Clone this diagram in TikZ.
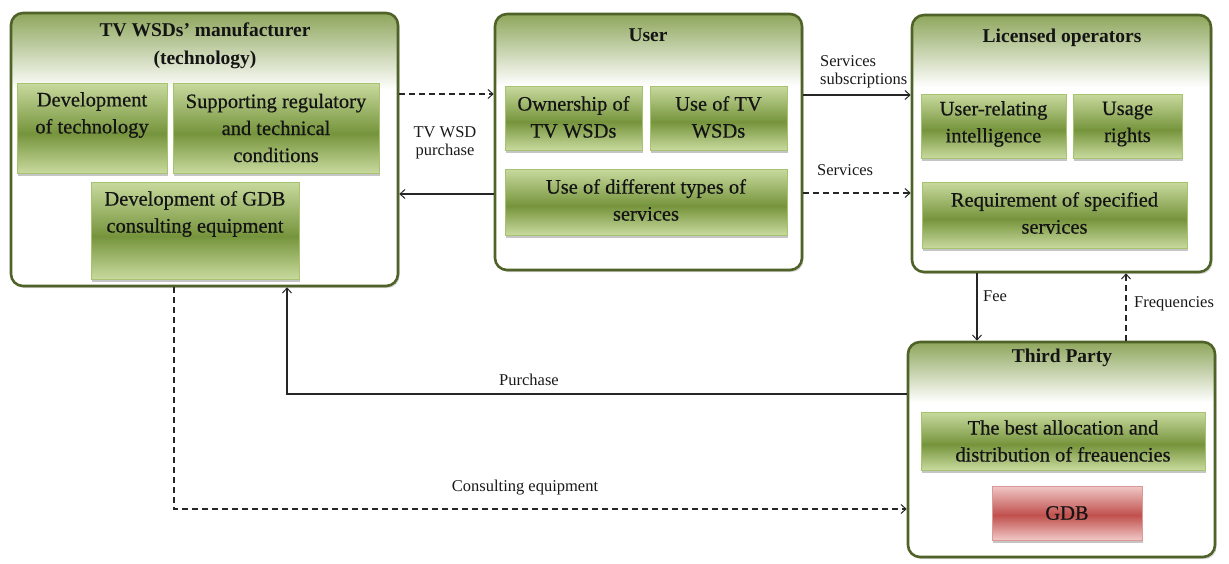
\documentclass[tikz,border=0pt]{standalone}
\usepackage{fontspec}
\setmainfont{Liberation Serif}
\newfontfamily\taskfont{Liberation Serif}
\newfontfamily\heavyfont[FakeBold=0.5]{Liberation Serif}
\usetikzlibrary{arrows.meta,shadows}

% palette
\definecolor{outline}{RGB}{79,98,40}
\definecolor{outtop}{RGB}{142,166,92}
\definecolor{inlight}{RGB}{200,218,158}
\definecolor{indark}{RGB}{118,148,60}
\definecolor{inedge}{RGB}{168,195,112}
\definecolor{gdblight}{RGB}{240,200,199}
\definecolor{gdbdark}{RGB}{192,80,77}
\definecolor{gdbedge}{RGB}{218,152,150}

% shadings: pale band at the top of a party box, glossy bars for the tasks
\pgfdeclareverticalshading{outerfade}{100bp}{color(0bp)=(white); color(61bp)=(white); color(75bp)=(outtop); color(100bp)=(outtop)}
\pgfdeclareverticalshading{greenbar}{100bp}{color(0bp)=(inlight); color(25bp)=(inlight); color(47bp)=(indark); color(75bp)=(inlight); color(100bp)=(inlight)}
\pgfdeclareverticalshading{redbar}{100bp}{color(0bp)=(gdblight); color(25bp)=(gdblight); color(48bp)=(gdbdark); color(75bp)=(gdblight); color(100bp)=(gdblight)}

\tikzset{
  party/.style={draw=outline, line width=2.6pt, rounded corners=12pt, shading=outerfade,
    drop shadow={shadow xshift=1.5pt, shadow yshift=-2pt, opacity=0.35}, inner sep=0pt},
  task/.style={draw=inedge, line width=0.8pt, shading=greenbar,
    drop shadow={shadow xshift=1pt, shadow yshift=-2.5pt, opacity=0.45}, inner sep=0pt},
  dbtask/.style={task, draw=gdbedge, shading=redbar},
  ptitle/.style={font=\taskfont\fontsize{19.5}{28}\selectfont\bfseries, align=center, text=black!92, inner sep=0pt},
  ttext/.style={font=\heavyfont\fontsize{20.5}{27}\selectfont, align=center, text=black!92, inner sep=0pt},
  flowlabel/.style={font=\taskfont\fontsize{16.5}{18.5}\selectfont, text=black!90, inner sep=0pt},
  flow/.style={line width=1.2pt, draw=black!85, -{Straight Barb[length=5pt,width=9pt,line width=1pt]}},
  dflow/.style={flow, dash pattern=on 6pt off 4pt}
}

\begin{document}
\begin{tikzpicture}[x=1pt, y=-1pt]
\useasboundingbox (0,0) rectangle (1229,563);

% ---- TV WSDs' manufacturer
\node[party, minimum width=387pt, minimum height=273pt] (man) at (204.5,149.5) {};
\node[ptitle] (man-t) at (205,46) {TV WSDs’ manufacturer\\(technology)};
\node[task, minimum width=150pt, minimum height=90pt] (devtech) at (92,128) {};
\node[ttext] (devtech-t) at (92,115) {Development\\of technology};
\node[task, minimum width=206pt, minimum height=90pt] (support) at (276,128) {};
\node[ttext] (support-t) at (276,128) {Supporting regulatory\\and technical\\conditions};
\node[task, minimum width=208pt, minimum height=97pt] (devgdb) at (195,230.5) {};
\node[ttext] (devgdb-t) at (195,214) {Development of GDB\\consulting equipment};

% ---- User
\node[party, minimum width=307pt, minimum height=256pt] (user) at (648.5,142) {};
\node[ptitle] (user-t) at (648,35) {User};
\node[task, minimum width=137pt, minimum height=64pt] (own) at (573.5,118) {};
\node[ttext] (own-t) at (573.5,117) {Ownership of\\TV WSDs};
\node[task, minimum width=137pt, minimum height=64pt] (usetv) at (718.5,118) {};
\node[ttext] (usetv-t) at (718.5,117) {Use of TV\\WSDs};
\node[task, minimum width=282pt, minimum height=66pt] (usediff) at (646,202) {};
\node[ttext] (usediff-t) at (646,200) {Use of different types of\\services};

% ---- Licensed operators
\node[party, minimum width=299pt, minimum height=257pt] (lic) at (1061.5,143.5) {};
\node[ptitle] (lic-t) at (1062,38) {Licensed operators};
\node[task, minimum width=145pt, minimum height=64pt] (intel) at (993.5,126) {};
\node[ttext] (intel-t) at (993.5,124) {User-relating\\intelligence};
\node[task, minimum width=109pt, minimum height=64pt] (rights) at (1127.5,126) {};
\node[ttext] (rights-t) at (1127.5,124) {Usage\\rights};
\node[task, minimum width=265pt, minimum height=66pt] (req) at (1054.5,215) {};
\node[ttext] (req-t) at (1054.5,213) {Requirement of specified\\services};

% ---- Third Party
\node[party, minimum width=307pt, minimum height=215pt] (tp) at (1061.5,449.5) {};
\node[ptitle] (tp-t) at (1062,358) {Third Party};
\node[task, minimum width=284pt, minimum height=58pt] (alloc) at (1063,441) {};
\node[ttext] (alloc-t) at (1063,441) {The best allocation and\\distribution of freauencies};
\node[dbtask, minimum width=150pt, minimum height=54pt] (gdb) at (1067,513) {};
\node[ttext] (gdb-t) at (1067,513) {GDB};

% ---- flows
\draw[dflow] (man.east |- 0,94) -- (user.west |- 0,94);
\draw[flow]  (user.west |- 0,194) -- (man.east |- 0,194);
\node[flowlabel, align=center] (buy-l) at (445,143) {TV WSD\\purchase};

\draw[flow]  (user.east |- 0,95) -- (lic.west |- 0,95);
\node[flowlabel, align=left, anchor=west] (subs-l) at (820,72) {Services\\subscriptions};
\draw[dflow] (user.east |- 0,193) -- (lic.west |- 0,193);
\node[flowlabel, anchor=west] (serv-l) at (817,170) {Services};

\draw[flow]  (977,0 |- lic.south) -- (977,0 |- tp.north);
\node[flowlabel, anchor=west] (fee-l) at (983,296) {Fee};
\draw[dflow] (1126,0 |- tp.north) -- (1126,0 |- lic.south);
\node[flowlabel, anchor=west] (freq-l) at (1134,304) {Frequencies};

\draw[flow]  (tp.west |- 0,394) -| (287,0 |- man.south);
\node[flowlabel] (purch-l) at (529,380) {Purchase};
\draw[dflow] (174,0 |- man.south) |- (tp.west |- 0,509);
\node[flowlabel] (cons-l) at (525,488) {Consulting equipment};
\end{tikzpicture}
\end{document}
